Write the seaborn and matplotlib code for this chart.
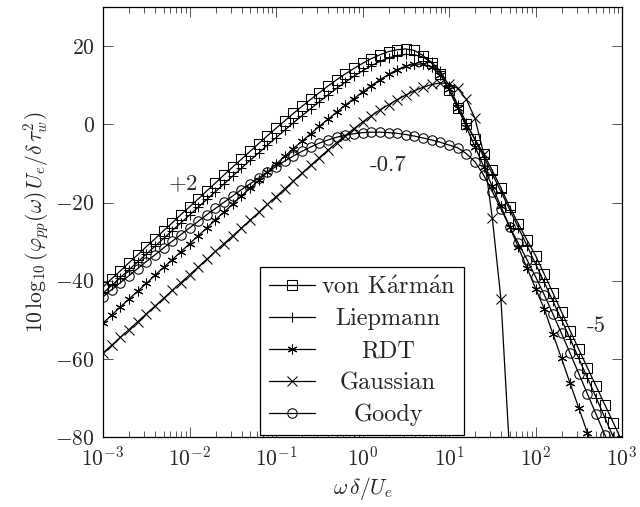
"""Wall-pressure spectrum models: von Kármán, Liepmann, RDT, Gaussian, Goody"""

import matplotlib

matplotlib.use("Agg")
import matplotlib.pyplot as plt
import numpy as np
import seaborn as sns
from matplotlib.ticker import FixedFormatter, FixedLocator, LogLocator, NullFormatter
from matplotlib.transforms import Affine2D

# %% Data

# omega delta / U_e, 10 points per decade
omega = np.logspace(-3, 3, 61)

von_karman = [
    -41.6, -39.5, -37.5, -35.4, -33.4, -31.3, -29.3, -27.2, -25.2, -23.1,
    -21.1, -19.1, -17.0, -15.0, -12.9, -10.9, -8.9, -6.9, -4.9, -2.9,
    -1.0, 0.9, 2.8, 4.6, 6.4, 8.1, 9.8, 11.4, 12.9, 14.3,
    15.6, 16.8, 17.8, 18.6, 19.1, 19.3, 18.9, 17.6, 15.6, 13.0,
    8.8, 4.2, 0.0, -3.8, -7.6, -11.8, -16.3, -21.1, -25.4, -29.6,
    -33.6, -38.3, -43.1, -48.0, -52.8, -57.6, -62.3, -67.0, -71.7, -76.4,
    -81.1,
]
liepmann = [
    -43.2, -41.2, -39.2, -37.2, -35.2, -33.2, -31.2, -29.2, -27.2, -25.2,
    -23.2, -21.2, -19.2, -17.2, -15.2, -13.2, -11.2, -9.2, -7.3, -5.3,
    -3.4, -1.5, 0.4, 2.2, 4.0, 5.8, 7.5, 9.2, 10.8, 12.3,
    13.7, 15.0, 16.1, 17.0, 17.6, 17.9, 17.8, 17.2, 15.9, 13.6,
    9.8, 5.0, 0.4, -4.0, -8.3, -12.7, -17.2, -21.8, -26.4, -31.0,
    -35.7, -40.4, -45.2, -50.0, -54.9, -59.9, -64.9, -69.9, -75.0, -80.1,
    -85.2,
]
rdt = [
    -50.8, -48.8, -46.7, -44.7, -42.7, -40.7, -38.6, -36.6, -34.6, -32.6,
    -30.5, -28.5, -26.5, -24.4, -22.4, -20.4, -18.3, -16.3, -14.3, -12.2,
    -10.2, -8.2, -6.2, -4.3, -2.4, -0.5, 1.3, 3.1, 4.9, 6.6,
    8.3, 9.9, 11.4, 12.8, 14.0, 14.9, 15.4, 15.4, 14.6, 12.6,
    9.0, 4.3, -0.7, -5.7, -10.8, -15.9, -21.0, -26.2, -31.4, -36.7,
    -42.0, -47.2, -53.6, -59.9, -66.3, -72.6, -79.0, -85.4, -91.8, -98.2,
    -104.6,
]
gaussian = [
    -58.5, -56.5, -54.5, -52.5, -50.5, -48.5, -46.5, -44.5, -42.5, -40.5,
    -38.5, -36.5, -34.5, -32.5, -30.5, -28.5, -26.5, -24.5, -22.5, -20.5,
    -18.5, -16.5, -14.5, -12.5, -10.5, -8.5, -6.6, -4.7, -2.9, -1.1,
    0.6, 2.2, 3.7, 5.0, 6.3, 7.5, 8.6, 9.5, 10.2, 10.6,
    10.4, 9.2, 6.4, 1.5, -7.5, -24.0, -44.8, -84.0,
]
goody = [
    -44.1, -42.3, -40.5, -38.7, -36.9, -35.1, -33.4, -31.6, -29.9, -28.2,
    -26.5, -24.8, -23.1, -21.5, -19.9, -18.3, -16.7, -15.2, -13.7, -12.2,
    -10.8, -9.4, -8.1, -6.9, -5.8, -4.8, -4.0, -3.3, -2.8, -2.4,
    -2.1, -2.0, -2.0, -2.1, -2.3, -2.6, -3.0, -3.5, -4.0, -4.6,
    -5.3, -6.0, -7.5, -9.6, -13.0, -17.2, -21.6, -26.2, -30.4, -34.6,
    -39.0, -43.6, -48.5, -53.5, -58.6, -63.8, -69.0, -74.2, -79.4, -84.6,
    -89.8,
]

labels = [r"von K$\mathrm{\acute{a}}$rm$\mathrm{\acute{a}}$n", "Liepmann", "RDT", "Gaussian", "Goody"]
y_ticks = [-80, -60, -40, -20, 0, 20]
y_tick_labels = ["$-80$", "$-60$", "$-40$", "$-20$", "$0$", "$20$"]

# %% Plot

sns.set_style("ticks")
plt.rcParams["font.family"] = ["cmr10", "DejaVu Serif"]
plt.rcParams["mathtext.fontset"] = "cm"
plt.rcParams["axes.formatter.use_mathtext"] = True
plt.rcParams["font.size"] = 15.5

fig = plt.figure(figsize=(6.4, 5.07), dpi=100)
ax = fig.add_axes((0.161, 0.138, 0.811, 0.848))

markers = ["s", "+", (6, 2, 0), "x", "o"]
series = [von_karman, liepmann, rdt, gaussian, goody]
for values, label, marker in zip(series, labels, markers):
    sns.lineplot(
        x=omega[: len(values)],
        y=values,
        ax=ax,
        color="black",
        linewidth=0.9,
        marker=marker,
        markersize=7 if marker != "o" else 6.8,
        markerfacecolor="none",
        markeredgecolor="black",
        markeredgewidth=0.75,
        label=label,
    )

ax.set(xscale="log", xlim=(1e-3, 1e3), ylim=(-80, 30))
ax.xaxis.set_major_locator(LogLocator(base=10, numticks=10))
ax.xaxis.set_minor_locator(LogLocator(base=10, subs=np.arange(2, 10), numticks=20))
ax.xaxis.set_minor_formatter(NullFormatter())
ax.yaxis.set_major_locator(FixedLocator(y_ticks))
ax.yaxis.set_major_formatter(FixedFormatter(y_tick_labels))
ax.tick_params(which="both", direction="in", top=True, right=True, width=0.7, color="#555555")
ax.tick_params(which="major", length=7.5, pad=6, labelsize=15.5)
ax.tick_params(which="minor", length=4.5)
for spine in ax.spines.values():
    spine.set_linewidth(0.9)
    spine.set_color("black")

ax.set_xlabel(r"$\omega\,\delta/U_e$", fontsize=15.5, labelpad=4)
ax.set_ylabel(r"$10\,\log_{10}(\varphi_{pp}(\omega)\,U_e/\delta\,\tau_w^2)$", fontsize=15.5, labelpad=2)

ax.text(0.0085, -15.3, "$+2$", ha="center", va="center", fontsize=16.5)
ax.text(1.97, -10.4, "-0.7", ha="center", va="center", fontsize=16.5)
ax.text(500, -51.6, "-5", ha="center", va="center", fontsize=16.5)

leg = ax.legend(
    loc="lower left",
    bbox_to_anchor=(0.3025, 0.005),
    borderaxespad=0,
    fancybox=False,
    edgecolor="black",
    framealpha=1,
    handlelength=1.9,
    handletextpad=0.25,
    labelspacing=0.4,
    borderpad=0.35,
    fontsize=17.5,
)
leg.get_frame().set_linewidth(0.9)

# center the legend labels in their column, like pgfplots does
fig.canvas.draw()
renderer = fig.canvas.get_renderer()
texts = leg.get_texts()
widths = [t.get_window_extent(renderer).width for t in texts]
w_max = max(widths)
for t, w in zip(texts, widths):
    t.set_transform(t.get_transform() + Affine2D().translate((w_max - w) / 2, 0))

fig.savefig("out.png", dpi=100)
